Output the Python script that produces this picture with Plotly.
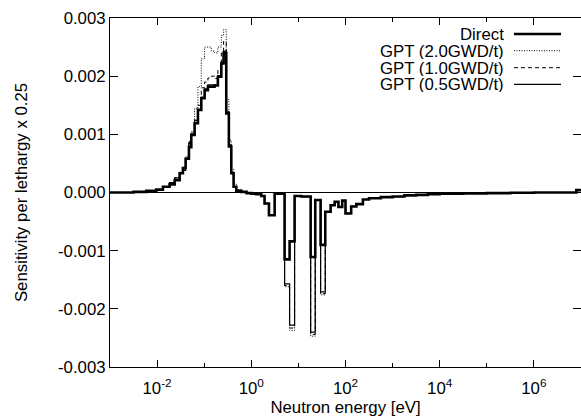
import plotly.graph_objects as go

# Group boundaries (eV)
E_BOUNDS = [1.0e-3, 3.16e-3, 5.89e-3, 9.62e-3, 1.33e-2, 1.84e-2, 2.36e-2, 3.01e-2,
            3.53e-2, 4.03e-2, 4.74e-2, 5.32e-2, 6.25e-2, 7.36e-2, 8.67e-2, 0.102,
            0.120, 0.141, 0.166, 0.195, 0.231, 0.258, 0.294, 0.334, 0.376, 0.421,
            0.480, 0.614, 0.794, 1.0, 1.26, 1.63, 1.91, 2.37, 3.13, 5.09, 6.50,
            8.30, 11.5, 18.2, 22.8, 29.6, 37.2, 48.3, 58.9, 70.8, 85.1, 100.0,
            132.0, 170.0, 234.0, 316.0, 562.0, 1000.0, 1780.0, 3160.0, 5620.0,
            1.0e4, 3.16e4, 1.0e5, 3.16e5, 1.0e6, 3.16e6, 7.94e6, 1.0e7]

DIRECT = [0.0, 0.00001, 0.00003, 0.00005, 0.0001, 0.00014, 0.00021, 0.00033,
          0.00042, 0.00058, 0.00078, 0.00099, 0.00119, 0.00142, 0.00162, 0.00176,
          0.00182, 0.00182, 0.00184, 0.00199, 0.00222, 0.00240, 0.00136, 0.00079,
          0.00033, 0.0001, 0.00003, 0.00001, -0.00001, -0.00002, -0.00003, -0.00006,
          -0.00019, -0.00039, -0.00002, -0.00115, -0.00084, -0.00006, -0.00007,
          -0.00111, -0.00013, -0.00090, -0.00033, -0.00022, -0.00016, -0.00025,
          -0.00014, -0.00036, -0.00024, -0.00020, -0.00012, -0.00010, -0.00008,
          -0.00007, -0.00005, -0.00004, -0.00003, -0.00002, -0.000015, -0.00001,
          -0.000005, 0.0, 0.0, 0.00004]

GPT_05 = [0.0, 0.00001, 0.00003, 0.00005, 0.0001, 0.00017, 0.00025, 0.00033,
          0.00038, 0.00058, 0.00085, 0.00099, 0.00124, 0.00142, 0.00164, 0.00178,
          0.00185, 0.00185, 0.00185, 0.00201, 0.00224, 0.00243, 0.00138, 0.00080,
          0.00034, 0.0001, 0.00003, 0.00001, -0.00001, -0.00002, -0.00003, -0.00006,
          -0.00019, -0.00039, -0.00002, -0.00157, -0.00228, -0.00006, -0.00007,
          -0.00240, -0.00013, -0.00171, -0.00033, -0.00022, -0.00016, -0.00025,
          -0.00014, -0.00036, -0.00024, -0.00020, -0.00012, -0.00010, -0.00008,
          -0.00007, -0.00005, -0.00004, -0.00003, -0.00002, -0.000015, -0.00001,
          -0.000005, 0.0, 0.0, 0.00004]

GPT_10 = [0.0, 0.00001, 0.00003, 0.00005, 0.0001, 0.00017, 0.00025, 0.00034,
          0.00038, 0.00060, 0.00086, 0.00102, 0.00125, 0.00150, 0.00180, 0.00190,
          0.00197, 0.00200, 0.00196, 0.00210, 0.00240, 0.00260, 0.00140, 0.00082,
          0.00035, 0.00011, 0.00003, 0.00001, -0.00001, -0.00002, -0.00003, -0.00006,
          -0.00019, -0.00039, -0.00002, -0.00160, -0.00233, -0.00006, -0.00007,
          -0.00244, -0.00013, -0.00174, -0.00033, -0.00022, -0.00016, -0.00025,
          -0.00014, -0.00036, -0.00024, -0.00020, -0.00012, -0.00010, -0.00008,
          -0.00007, -0.00005, -0.00004, -0.00003, -0.00002, -0.000015, -0.00001,
          -0.000005, 0.0, 0.0, 0.00004]

GPT_20 = [0.0, 0.00001, 0.00003, 0.00005, 0.0001, 0.00017, 0.00025, 0.00035,
          0.00040, 0.00062, 0.00088, 0.00105, 0.00145, 0.00182, 0.00230, 0.00250,
          0.00250, 0.00243, 0.00240, 0.00250, 0.00270, 0.00280, 0.00160, 0.00090,
          0.00040, 0.00015, 0.00005, 0.00001, -0.00001, -0.00002, -0.00003, -0.00006,
          -0.00019, -0.00039, -0.00002, -0.00162, -0.00237, -0.00006, -0.00007,
          -0.00247, -0.00013, -0.00176, -0.00033, -0.00022, -0.00016, -0.00025,
          -0.00014, -0.00036, -0.00024, -0.00020, -0.00012, -0.00010, -0.00008,
          -0.00007, -0.00005, -0.00004, -0.00003, -0.00002, -0.000015, -0.00001,
          -0.000005, 0.0, 0.0, 0.00004]

SERIES_NAMES = ["Direct", "GPT (2.0GWD/t)", "GPT (1.0GWD/t)", "GPT (0.5GWD/t)"]
X_TICKS = [1e-2, 1e0, 1e2, 1e4, 1e6]
X_TICK_TEXT = ["10<sup>-2</sup>", "10<sup>0</sup>", "10<sup>2</sup>", "10<sup>4</sup>", "10<sup>6</sup>"]
X_MINOR = [1e-1, 1e1, 1e3, 1e5]
Y_TICKS = [-0.003, -0.002, -0.001, 0.0, 0.001, 0.002, 0.003]
Y_TICK_TEXT = ["-0.003", "-0.002", "-0.001", "0.000", "0.001", "0.002", "0.003"]

FONT = "Liberation Sans, Arial, Helvetica, sans-serif"
FS = 16.8

styles = {
    "Direct": dict(width=2.6, dash="solid"),
    "GPT (2.0GWD/t)": dict(width=1, dash="1px,1.5px"),
    "GPT (1.0GWD/t)": dict(width=1, dash="4px,3px"),
    "GPT (0.5GWD/t)": dict(width=1.2, dash="solid"),
}
data = {"Direct": DIRECT, "GPT (2.0GWD/t)": GPT_20,
        "GPT (1.0GWD/t)": GPT_10, "GPT (0.5GWD/t)": GPT_05}


def steps(vals):
    return list(vals) + [vals[-1]]


fig = go.Figure()
for name in ["GPT (2.0GWD/t)", "GPT (1.0GWD/t)", "GPT (0.5GWD/t)", "Direct"]:
    st = styles[name]
    fig.add_trace(go.Scatter(
        x=E_BOUNDS, y=steps(data[name]), mode="lines", name=name,
        line=dict(shape="hv", color="black", width=st["width"], dash=st["dash"]),
        showlegend=False))

# Manual gnuplot-style legend (text right-aligned, sample on the right)
L, T, PW, PH = 110, 18, 471, 349
row_y = [34, 50.7, 67.7, 84.3]
for name, ypx in zip(SERIES_NAMES, row_y):
    yp = 1 - (ypx - T) / PH
    fig.add_annotation(x=(505 - L) / PW, y=yp, xref="paper", yref="paper",
                       text=name, showarrow=False, xanchor="right", yanchor="middle",
                       borderpad=0, height=16, valign="middle",
                       font=dict(family=FONT, size=FS, color="black"))
    st = styles[name]
    fig.add_shape(type="line", xref="paper", yref="paper",
                  x0=(514 - L) / PW, x1=(561 - L) / PW, y0=yp, y1=yp,
                  line=dict(color="black", width=st["width"], dash=st["dash"]))

fig.update_layout(
    width=581, height=419,
    margin=dict(l=110, r=0, t=18, b=52),
    paper_bgcolor="white", plot_bgcolor="white",
    font=dict(family=FONT, size=FS, color="black"),
    xaxis=dict(type="log", range=[-3, 7], tickvals=X_TICKS, ticktext=X_TICK_TEXT,
               ticks="inside", ticklen=7, tickcolor="black", tickwidth=1,
               showline=True, linecolor="black", linewidth=1, mirror="ticks",
               showgrid=False, zeroline=False, ticklabelstandoff=6,
               minor=dict(tickvals=X_MINOR, ticks="inside", ticklen=4,
                          tickcolor="black", tickwidth=1, showgrid=False),
               title=dict(text="Neutron energy [eV]", standoff=3,
                          font=dict(family=FONT, size=FS)),
               tickfont=dict(family=FONT, size=FS), automargin=False),
    yaxis=dict(range=[-0.003, 0.003], tickvals=Y_TICKS, ticktext=Y_TICK_TEXT,
               ticks="inside", ticklen=8, tickcolor="black", tickwidth=1,
               showline=True, linecolor="black", linewidth=1, mirror="ticks",
               showgrid=False, zeroline=True, zerolinecolor="black", zerolinewidth=1,
               ticklabelstandoff=0,
               title=dict(text="Sensitivity per lethargy x 0.25", standoff=26,
                          font=dict(family=FONT, size=FS)),
               tickfont=dict(family=FONT, size=FS), automargin=False),
)

fig.write_html("out.html")
